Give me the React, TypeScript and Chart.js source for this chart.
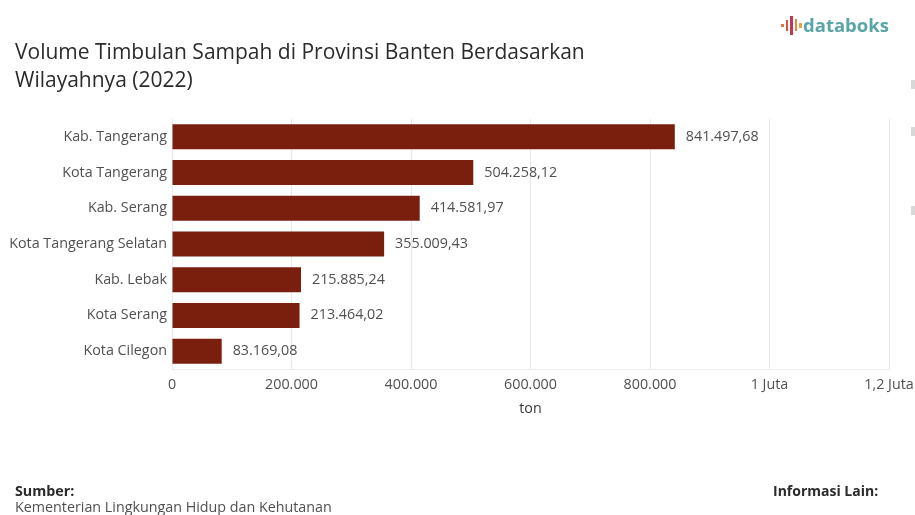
import React, { useEffect, useRef } from "react";
import { Chart, registerables } from "chart.js";

Chart.register(...registerables);

const regions = [
  "Kab. Tangerang",
  "Kota Tangerang",
  "Kab. Serang",
  "Kota Tangerang Selatan",
  "Kab. Lebak",
  "Kota Serang",
  "Kota Cilegon",
];
const volumes = [841497.68, 504258.12, 414581.97, 355009.43, 215885.24, 213464.02, 83169.08];
const volumeLabels = [
  "841.497,68",
  "504.258,12",
  "414.581,97",
  "355.009,43",
  "215.885,24",
  "213.464,02",
  "83.169,08",
];
const tickLabels: Record<number, string> = {
  0: "0",
  200000: "200.000",
  400000: "400.000",
  600000: "600.000",
  800000: "800.000",
  1000000: "1 Juta",
  1200000: "1,2 Juta",
};
const titleLines = ["Volume Timbulan Sampah di Provinsi Banten Berdasarkan", "Wilayahnya (2022)"];
const logoBars = [
  { h: 3, c: "#e8734a" },
  { h: 11, c: "#d9534a" },
  { h: 19, c: "#c0394f" },
  { h: 12, c: "#e8873f" },
  { h: 5, c: "#e8a23f" },
];

const FONT = '"Open Sans", "Noto Sans", sans-serif';
const TEXT = "#505050";
const LABEL_SIZE = 14.3;

// Writes each value just past the end of its bar.
const valueLabels = {
  id: "valueLabels",
  afterDatasetsDraw(chart: Chart) {
    const { ctx } = chart;
    const meta = chart.getDatasetMeta(0);
    ctx.save();
    ctx.font = `${LABEL_SIZE}px ${FONT}`;
    ctx.fillStyle = TEXT;
    ctx.textAlign = "left";
    ctx.textBaseline = "middle";
    meta.data.forEach((bar: any, i: number) => {
      ctx.fillText(volumeLabels[i], bar.x + 11, bar.y);
    });
    ctx.restore();
  },
};

export default function App() {
  const ref = useRef<HTMLCanvasElement>(null);

  useEffect(() => {
    document.body.style.margin = "0";
    const chart = new Chart(ref.current!, {
      type: "bar",
      data: {
        labels: regions,
        datasets: [
          {
            data: volumes,
            backgroundColor: "#7a1f0e",
            borderWidth: 0,
            categoryPercentage: 0.7,
            barPercentage: 1,
          },
        ],
      },
      options: {
        indexAxis: "y",
        animation: false,
        responsive: false,
        layout: { padding: { top: 119, right: 26, bottom: 97, left: 0 } },
        plugins: { legend: { display: false }, tooltip: { enabled: false } },
        scales: {
          x: {
            min: 0,
            max: 1200000,
            afterFit(scale: any) {
              // The last tick label may run to the canvas edge, so it claims no extra room.
              scale.height = 49;
              scale.paddingRight = 0;
              scale.paddingLeft = 0;
            },
            afterBuildTicks(scale: any) {
              scale.ticks = Object.keys(tickLabels).map((v) => ({ value: Number(v) }));
            },
            ticks: {
              maxRotation: 0,
              autoSkip: false,
              padding: 7,
              color: TEXT,
              font: { family: FONT, size: LABEL_SIZE },
              callback: (v: any) => tickLabels[Number(v)],
            },
            grid: { color: "#e9e9e9", drawTicks: false },
            border: { color: "#ececec" },
            title: {
              display: true,
              text: "ton",
              color: "#3a3a3a",
              padding: { top: 0, bottom: 0 },
              font: { family: FONT, size: LABEL_SIZE },
            },
          },
          y: {
            afterFit(scale: any) {
              scale.width = 172;
            },
            ticks: {
              padding: 5,
              color: TEXT,
              font: { family: FONT, size: LABEL_SIZE },
            },
            grid: { display: false, drawTicks: false },
            border: { display: false },
          },
        },
      },
      plugins: [valueLabels],
    } as any);
    return () => chart.destroy();
  }, []);

  const text = (style: React.CSSProperties): React.CSSProperties => ({
    position: "absolute",
    fontFamily: FONT,
    whiteSpace: "nowrap",
    ...style,
  });

  return (
    <div style={{ position: "relative", width: 915, height: 515, overflow: "hidden", background: "#fff" }}>
      <canvas ref={ref} width={915} height={515} style={{ position: "absolute", left: 0, top: 0 }} />

      <div style={text({ left: 15, top: 37, fontSize: 21, lineHeight: "28px", color: "#2b2b2b" })}>
        {titleLines.map((line) => (
          <div key={line}>{line}</div>
        ))}
      </div>

      <div style={{ position: "absolute", left: 781, top: 15, width: 22, height: 20, display: "flex", alignItems: "center", gap: 2 }}>
        {logoBars.map((b, i) => (
          <span key={i} style={{ width: 2.5, height: b.h, background: b.c, display: "block" }} />
        ))}
      </div>
      <div style={text({ left: 803, top: 12, fontSize: 18.5, lineHeight: "26px", fontWeight: 700, color: "#5aa5a8" })}>
        databoks
      </div>

      <div style={{ position: "absolute", left: 911, top: 80, width: 4, height: 9, background: "#d8d8d8" }} />
      <div style={{ position: "absolute", left: 911, top: 127, width: 4, height: 9, background: "#d8d8d8" }} />
      <div style={{ position: "absolute", left: 911, top: 206, width: 4, height: 9, background: "#d8d8d8" }} />

      <div style={text({ left: 15, top: 483, fontSize: 14.3, lineHeight: "16px", fontWeight: 700, color: "#2b2b2b" })}>
        Sumber:
      </div>
      <div style={text({ left: 15, top: 499, fontSize: 14.3, lineHeight: "16px", color: TEXT })}>
        Kementerian Lingkungan Hidup dan Kehutanan
      </div>
      <div style={text({ left: 773, top: 483, fontSize: 14, lineHeight: "16px", fontWeight: 700, color: "#2b2b2b" })}>
        Informasi Lain:
      </div>
    </div>
  );
}
